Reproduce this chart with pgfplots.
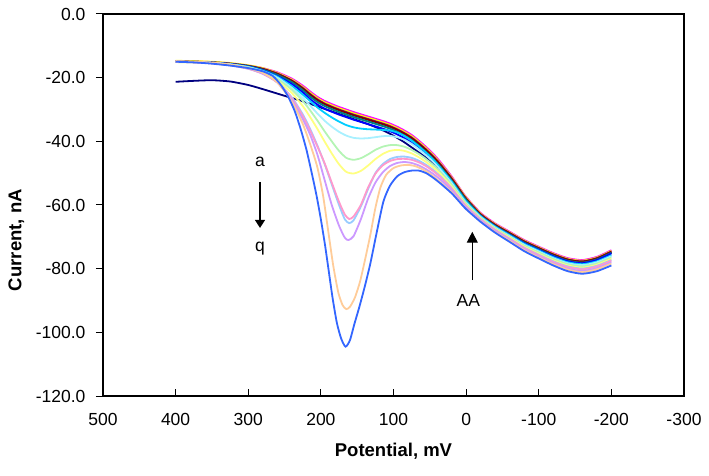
\documentclass[border=0pt]{standalone}
\usepackage{fontspec}
\setmainfont{Liberation Sans}
\usepackage{pgfplots}
\pgfplotsset{compat=1.18}
\usetikzlibrary{arrows.meta}
\definecolor{cA}{HTML}{000080}
\definecolor{cB}{HTML}{FF00FF}
\definecolor{cC}{HTML}{FFFF00}
\definecolor{cD}{HTML}{00FFFF}
\definecolor{cE}{HTML}{800080}
\definecolor{cF}{HTML}{800000}
\definecolor{cG}{HTML}{008080}
\definecolor{cH}{HTML}{0000FF}
\definecolor{cI}{HTML}{00CCFF}
\definecolor{cJ}{HTML}{A8F0FF}
\definecolor{cK}{HTML}{B4F4B4}
\definecolor{cL}{HTML}{FFFF80}
\definecolor{cM}{HTML}{99CCFF}
\definecolor{cN}{HTML}{FF99CC}
\definecolor{cO}{HTML}{CC99FF}
\definecolor{cP}{HTML}{FFCC99}
\definecolor{cQ}{HTML}{3366FF}
\begin{document}
\begin{tikzpicture}
\begin{axis}[
  at={(0,0)}, anchor=south west,
  scale only axis, width=581bp, height=382bp,
  xmin=-300, xmax=500, ymin=-120, ymax=0,
  x dir=reverse,
  xtick={-300,-200,...,500}, ytick={-120,-100,...,0},
  xtick pos=left, ytick pos=left,
  tick align=inside,
  major tick length=7bp,
  y tick style={xshift=-7bp},
  tick style={black, line width=1bp},
  axis line style={black, line width=1.2bp},
  /pgf/number format/assume math mode=true,
  yticklabel style={/pgf/number format/fixed, /pgf/number format/precision=1, /pgf/number format/fixed zerofill, xshift=-14bp},
  xticklabel style={yshift=-13.5bp},
  ticklabel style={font=\fontsize{17.5bp}{20bp}\selectfont},
  xlabel={Potential, mV}, ylabel={Current, nA},
  every axis x label/.style={at={(axis description cs:0.5,-0.144)},anchor=center,font=\bfseries\fontsize{18.5bp}{22bp}\selectfont},
  every axis y label/.style={at={(axis description cs:-0.149,0.408)},rotate=90,anchor=center,font=\bfseries\fontsize{18.5bp}{22bp}\selectfont},
  every axis plot/.append style={line width=1.8bp, smooth, tension=0.4, mark=none},
]
% a navy
\addplot[cA] coordinates {(400,-21.3)(375,-21)(350,-20.8)(325,-21.2)(300,-22.3)(280,-23.6)(260,-25)(240,-26.4)(225,-27.4)(215,-28.2)(205,-29)(195,-29.8)(185,-30.6)(175,-31.4)(165,-32.2)(155,-33)(145,-33.8)(135,-34.6)(125,-35.5)(115,-36.5)(105,-37.6)(95,-38.9)(85,-40.3)(75,-41.9)(65,-43.5)(55,-45.2)(45,-47)(35,-49.2)(20,-53)(10,-55.8)(0,-58.7)(-20,-63.3)(-40,-66.6)(-60,-69.2)(-80,-71.8)(-100,-73.9)(-120,-75.9)(-140,-77.5)(-160,-78.1)(-180,-77.1)(-200,-75)};
% b magenta
\addplot[cB] coordinates {(400,-14.8)(375,-14.9)(350,-15.1)(325,-15.5)(300,-16.2)(280,-17)(260,-18.3)(240,-20.3)(225,-22.5)(215,-24.3)(205,-26)(195,-27.3)(185,-28.3)(175,-29.2)(165,-30)(155,-30.8)(145,-31.5)(135,-32.2)(125,-32.9)(115,-33.6)(105,-34.4)(95,-35.4)(85,-36.6)(75,-38)(65,-39.8)(55,-41.8)(45,-44)(35,-46.6)(20,-51)(10,-54.3)(0,-57.5)(-20,-62.5)(-40,-65.8)(-60,-68.4)(-80,-71)(-100,-73.1)(-120,-75.1)(-140,-76.7)(-160,-77.3)(-180,-76.3)(-200,-74.2)};
% c yellow
\addplot[cC] coordinates {(400,-14.7)(375,-14.8)(350,-15)(325,-15.4)(300,-16.1)(280,-17)(260,-18.5)(240,-20.6)(225,-22.9)(215,-24.7)(205,-26.4)(195,-27.7)(185,-28.7)(175,-29.6)(165,-30.4)(155,-31.2)(145,-31.9)(135,-32.6)(125,-33.3)(115,-34)(105,-34.8)(95,-35.8)(85,-37)(75,-38.4)(65,-40.2)(55,-42.2)(45,-44.4)(35,-47)(20,-51.3)(10,-54.5)(0,-57.7)(-20,-62.7)(-40,-66)(-60,-68.6)(-80,-71.2)(-100,-73.3)(-120,-75.3)(-140,-76.9)(-160,-77.5)(-180,-76.5)(-200,-74.4)};
% d turquoise
\addplot[cD] coordinates {(400,-14.9)(375,-15)(350,-15.2)(325,-15.6)(300,-16.3)(280,-17.3)(260,-18.9)(240,-21.1)(225,-23.6)(215,-25.5)(205,-27.2)(195,-28.5)(185,-29.5)(175,-30.4)(165,-31.2)(155,-32)(145,-32.7)(135,-33.4)(125,-34.1)(115,-34.8)(105,-35.6)(95,-36.6)(85,-37.8)(75,-39.2)(65,-41)(55,-43)(45,-45.2)(35,-47.7)(20,-52)(10,-55.2)(0,-58.2)(-20,-63.1)(-40,-66.4)(-60,-69)(-80,-71.6)(-100,-73.7)(-120,-75.7)(-140,-77.3)(-160,-77.9)(-180,-76.9)(-200,-74.8)};
% e violet
\addplot[cE] coordinates {(400,-14.9)(375,-15)(350,-15.2)(325,-15.6)(300,-16.3)(280,-17.2)(260,-18.7)(240,-20.9)(225,-23.2)(215,-25.1)(205,-26.8)(195,-28.1)(185,-29.1)(175,-30)(165,-30.8)(155,-31.6)(145,-32.3)(135,-33)(125,-33.7)(115,-34.4)(105,-35.2)(95,-36.2)(85,-37.4)(75,-38.8)(65,-40.6)(55,-42.6)(45,-44.8)(35,-47.3)(20,-51.6)(10,-54.8)(0,-58)(-20,-62.9)(-40,-66.2)(-60,-68.8)(-80,-71.4)(-100,-73.5)(-120,-75.5)(-140,-77.1)(-160,-77.7)(-180,-76.7)(-200,-74.6)};
% f dark red
\addplot[cF] coordinates {(400,-14.9)(375,-15)(350,-15.2)(325,-15.6)(300,-16.3)(280,-17.3)(260,-18.8)(240,-21)(225,-23.4)(215,-25.3)(205,-27)(195,-28.3)(185,-29.3)(175,-30.2)(165,-31)(155,-31.8)(145,-32.5)(135,-33.2)(125,-33.9)(115,-34.6)(105,-35.4)(95,-36.4)(85,-37.6)(75,-39)(65,-40.8)(55,-42.8)(45,-45)(35,-47.5)(20,-51.8)(10,-55)(0,-58.1)(-20,-63)(-40,-66.3)(-60,-68.9)(-80,-71.5)(-100,-73.6)(-120,-75.6)(-140,-77.2)(-160,-77.8)(-180,-76.8)(-200,-74.7)};
% g teal
\addplot[cG] coordinates {(400,-15)(375,-15.1)(350,-15.3)(325,-15.7)(300,-16.4)(280,-17.5)(260,-19.1)(240,-21.4)(225,-23.9)(215,-25.9)(205,-27.6)(195,-28.9)(185,-29.9)(175,-30.8)(165,-31.6)(155,-32.4)(145,-33.1)(135,-33.8)(125,-34.5)(115,-35.2)(105,-36)(95,-37)(85,-38.2)(75,-39.6)(65,-41.4)(55,-43.4)(45,-45.6)(35,-48.1)(20,-52.3)(10,-55.4)(0,-58.4)(-20,-63.3)(-40,-66.6)(-60,-69.2)(-80,-71.8)(-100,-73.9)(-120,-75.9)(-140,-77.5)(-160,-78.1)(-180,-77.1)(-200,-75)};
% h blue
\addplot[cH] coordinates {(400,-15)(375,-15.1)(350,-15.3)(325,-15.7)(300,-16.5)(280,-17.7)(260,-19.5)(240,-22)(225,-24.6)(215,-26.7)(205,-28.4)(195,-29.7)(185,-30.7)(175,-31.6)(165,-32.4)(155,-33.2)(145,-33.9)(135,-34.6)(125,-35.3)(115,-36)(105,-36.8)(95,-37.8)(85,-39)(75,-40.4)(65,-42.2)(55,-44.2)(45,-46.4)(35,-48.8)(20,-52.9)(10,-56)(0,-59)(-20,-63.5)(-40,-66.8)(-60,-69.4)(-80,-72)(-100,-74.1)(-120,-76.1)(-140,-77.7)(-160,-78.3)(-180,-77.3)(-200,-75.2)};
% i sky blue
\addplot[cI] coordinates {(400,-15)(375,-15.1)(350,-15.3)(325,-15.8)(300,-16.6)(280,-17.8)(260,-19.7)(240,-22.6)(225,-25.3)(215,-27.3)(205,-29.3)(195,-31)(185,-32.5)(175,-33.8)(165,-34.9)(155,-35.6)(145,-36)(135,-36.2)(125,-36.3)(115,-36.4)(105,-36.6)(95,-37.2)(85,-38.3)(75,-39.8)(65,-41.6)(55,-43.6)(45,-45.8)(35,-48.4)(20,-52.6)(10,-55.8)(0,-58.9)(-20,-63.5)(-40,-66.8)(-60,-69.5)(-80,-72.2)(-100,-74.3)(-120,-76.4)(-140,-78)(-160,-78.6)(-180,-77.7)(-200,-75.8)};
% j light turquoise
\addplot[cJ] coordinates {(400,-15)(375,-15.1)(350,-15.3)(325,-15.8)(300,-16.7)(280,-18)(260,-20)(240,-23.2)(225,-26.3)(215,-28.7)(205,-31.2)(195,-33.5)(185,-35.4)(175,-37)(165,-38.2)(155,-38.9)(145,-39.1)(135,-39)(125,-38.7)(115,-38.4)(105,-38.3)(95,-38.7)(85,-39.5)(75,-40.8)(65,-42.5)(55,-44.4)(45,-46.5)(35,-49)(20,-53.1)(10,-56.3)(0,-59.3)(-20,-63.8)(-40,-67.1)(-60,-69.8)(-80,-72.5)(-100,-74.6)(-120,-76.7)(-140,-78.3)(-160,-78.9)(-180,-78)(-200,-76.1)};
% k light green
\addplot[cK] coordinates {(400,-15.1)(375,-15.2)(350,-15.4)(325,-15.9)(300,-16.8)(280,-18.2)(260,-20.4)(240,-23.8)(225,-27.3)(215,-30.2)(205,-33.4)(195,-36.8)(185,-40)(175,-43)(165,-45.2)(155,-45.8)(145,-45.3)(135,-44.1)(125,-42.7)(115,-41.7)(105,-41.2)(95,-41.2)(85,-41.7)(75,-42.7)(65,-44)(55,-45.6)(45,-47.5)(35,-49.8)(20,-53.6)(10,-56.7)(0,-59.6)(-20,-64)(-40,-67.3)(-60,-70)(-80,-72.8)(-100,-74.9)(-120,-77)(-140,-78.6)(-160,-79.3)(-180,-78.4)(-200,-76.5)};
% l light yellow
\addplot[cL] coordinates {(400,-15.1)(375,-15.2)(350,-15.4)(325,-16)(300,-17)(280,-18.5)(260,-20.9)(240,-24.8)(225,-28.9)(215,-32.3)(205,-36)(195,-40)(185,-43.8)(175,-47.2)(165,-49.6)(155,-50.1)(145,-49.3)(135,-47.6)(125,-45.6)(115,-44)(105,-43)(95,-42.7)(85,-43)(75,-43.8)(65,-45)(55,-46.5)(45,-48.3)(35,-50.4)(20,-54.2)(10,-57.2)(0,-60)(-20,-64.3)(-40,-67.6)(-60,-70.3)(-80,-73.1)(-100,-75.3)(-120,-77.4)(-140,-79)(-160,-79.7)(-180,-78.8)(-200,-76.9)};
% m pale blue
\addplot[cM] coordinates {(400,-15)(375,-15.2)(350,-15.5)(325,-16.1)(300,-17.2)(280,-18.7)(260,-21.3)(240,-26.2)(225,-31.5)(215,-36)(205,-41.2)(195,-47)(185,-53.5)(175,-60)(167,-64.5)(161,-65.7)(155,-64.8)(145,-60.5)(135,-55)(125,-50)(115,-47.2)(105,-45.6)(95,-44.9)(85,-44.8)(75,-45.2)(65,-46.1)(55,-47.4)(45,-49.1)(35,-51.1)(20,-54.7)(10,-57.6)(0,-60.3)(-20,-64.5)(-40,-67.8)(-60,-70.6)(-80,-73.4)(-100,-75.6)(-120,-77.7)(-140,-79.3)(-160,-80)(-180,-79.1)(-200,-77.3)};
% n rose
\addplot[cN] coordinates {(400,-15)(375,-15.2)(350,-15.5)(325,-16.1)(300,-17.2)(280,-18.8)(260,-21.5)(240,-26.5)(225,-32)(215,-36.5)(205,-41.5)(195,-46.8)(185,-53)(175,-59)(167,-63)(161,-64.4)(155,-63.6)(145,-60)(135,-54.5)(125,-50.2)(115,-47.6)(105,-46.2)(95,-45.6)(85,-45.5)(75,-45.8)(65,-46.6)(55,-47.8)(45,-49.4)(35,-51.3)(20,-54.8)(10,-57.7)(0,-60.4)(-20,-64.6)(-40,-67.9)(-60,-70.7)(-80,-73.5)(-100,-75.8)(-120,-77.9)(-140,-79.5)(-160,-80.2)(-180,-79.3)(-200,-77.5)};
% o lavender
\addplot[cO] coordinates {(400,-14.9)(375,-15.1)(350,-15.4)(325,-16)(300,-17.1)(280,-18.7)(260,-21.5)(240,-27)(225,-33)(215,-37.8)(205,-44)(195,-52)(185,-60)(175,-66.5)(167,-70.3)(162,-71)(155,-69.8)(145,-64.5)(135,-58)(125,-53)(115,-49.8)(105,-47.8)(95,-46.8)(85,-46.5)(75,-46.8)(65,-47.6)(55,-48.8)(45,-50.3)(35,-52.1)(20,-55.4)(10,-58.1)(0,-60.8)(-20,-64.9)(-40,-68.2)(-60,-71)(-80,-73.9)(-100,-76.2)(-120,-78.3)(-140,-80)(-160,-80.7)(-180,-79.8)(-200,-78)};
% p tan
\addplot[cP] coordinates {(400,-14.8)(375,-15)(350,-15.3)(325,-15.9)(300,-17)(280,-18.5)(260,-21.5)(240,-27.5)(225,-34.5)(215,-40.7)(205,-48)(197,-57)(190,-68)(183,-79)(176,-87.5)(170,-91.5)(165,-92.7)(160,-92)(153,-89)(146,-84)(139,-77)(132,-69.5)(125,-61)(118,-54.5)(110,-50.5)(100,-48.4)(90,-47.6)(80,-47.4)(70,-47.8)(60,-48.8)(50,-50.2)(40,-52)(30,-54)(20,-56)(10,-58.6)(0,-61.2)(-20,-65.2)(-40,-68.5)(-60,-71.3)(-80,-74.2)(-100,-76.5)(-120,-78.6)(-140,-80.3)(-160,-81.1)(-180,-80.2)(-200,-78.4)};
% q light blue
\addplot[cQ] coordinates {(400,-15)(375,-15.2)(350,-15.6)(325,-16.2)(300,-17)(280,-18)(266,-19.5)(255,-22.3)(245,-26)(236,-30.5)(228,-36)(220,-42.5)(213,-49.5)(206,-57)(200,-64.5)(194,-73)(189,-81)(184,-89)(178,-97)(172,-102)(166,-104.5)(160,-102.5)(154,-97.5)(147,-92)(140,-86)(132,-78.5)(123,-68.5)(114,-59)(105,-54)(95,-51)(85,-49.7)(75,-49.2)(65,-49.2)(55,-50)(45,-51.5)(35,-53.3)(20,-56.3)(10,-58.8)(0,-61.3)(-20,-65.3)(-40,-68.7)(-60,-71.6)(-80,-74.5)(-100,-76.8)(-120,-79)(-140,-80.8)(-160,-81.6)(-180,-80.8)(-200,-79)};
% annotations
\draw[line width=1.2bp, -{Triangle[width=10bp,length=8bp]}] (axis cs:283.8,-52.7) -- (axis cs:283.8,-67.2);
\node[anchor=base, font=\fontsize{17.5bp}{20bp}\selectfont, inner sep=0pt] at (axis cs:283.8,-48) {a};
\node[anchor=base, font=\fontsize{17.5bp}{20bp}\selectfont, inner sep=0pt] at (axis cs:283.8,-74.5) {q};
\draw[line width=1.2bp, -{Triangle[width=11bp,length=11bp]}] (axis cs:-8.5,-83.6) -- (axis cs:-8.5,-68.4);
\node[anchor=base, font=\fontsize{17.5bp}{20bp}\selectfont, inner sep=0pt] at (axis cs:-3,-92) {AA};
\end{axis}
\pgfresetboundingbox
\path[use as bounding box] (-103bp,-80bp) rectangle (606bp,396bp);
\end{tikzpicture}
\end{document}
